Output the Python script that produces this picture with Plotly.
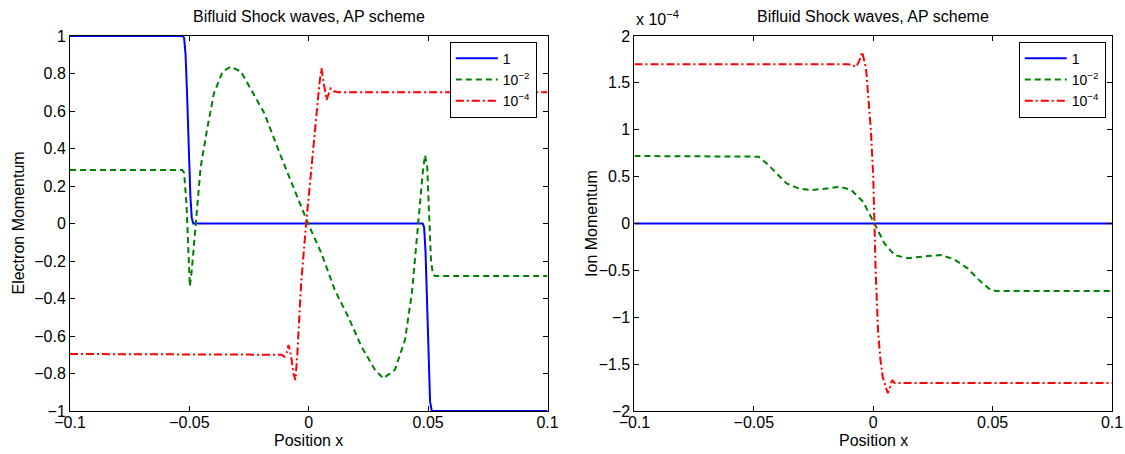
import plotly.graph_objects as go
from plotly.subplots import make_subplots

# ---------------- data ----------------
x_ticks = [-0.1, -0.05, 0, 0.05, 0.1]
x_tick_text = ["\u22120.1", "\u22120.05", "0", "0.05", "0.1"]
yl_ticks = [-1, -0.8, -0.6, -0.4, -0.2, 0, 0.2, 0.4, 0.6, 0.8, 1]
yl_tick_text = ["\u22121", "\u22120.8", "\u22120.6", "\u22120.4", "\u22120.2", "0", "0.2", "0.4", "0.6", "0.8", "1"]
yr_ticks = [-2, -1.5, -1, -0.5, 0, 0.5, 1, 1.5, 2]
yr_tick_text = ["\u22122", "\u22121.5", "\u22121", "\u22120.5", "0", "0.5", "1", "1.5", "2"]
legend_names = ["1", "10<sup>\u22122</sup>", "10<sup>\u22124</sup>"]

# Electron momentum, eps = 1
e1_x = [-0.1, -0.053, -0.0522, -0.0516, -0.051, -0.0503, -0.0496, -0.049, -0.0484,
        0.0477, 0.0483, 0.0489, 0.0495, 0.0502, 0.0508, 0.0515, 0.1]
e1_y = [1, 1, 0.99, 0.9, 0.7, 0.4, 0.15, 0.03, 0, 0, -0.02, -0.15, -0.45, -0.75, -0.95, -1, -1]

# Electron momentum, eps = 1e-2
e2_x = [-0.1, -0.053, -0.0522, -0.0512, -0.0504, -0.0498, -0.049, -0.0474, -0.0453, -0.0424,
        -0.0397, -0.0361, -0.0326, -0.0284, -0.0242, -0.0186, -0.0116, -0.006, -0.0003, 0.0053,
        0.0109, 0.0165, 0.0221, 0.0277, 0.0312, 0.0361, 0.0403, 0.0432, 0.046, 0.0478, 0.0487,
        0.0496, 0.0504, 0.0512, 0.052, 0.0528, 0.1]
e2_y = [0.285, 0.285, 0.27, 0.1, -0.15, -0.335, -0.25, 0, 0.30, 0.516,
        0.694, 0.81, 0.836, 0.81, 0.712, 0.588, 0.356, 0.179, 0, -0.159,
        -0.355, -0.497, -0.657, -0.78, -0.826, -0.78, -0.62, -0.37, 0.03, 0.28, 0.365,
        0.3, 0.05, -0.2, -0.27, -0.28, -0.28]

# Electron momentum, eps = 1e-4
e3_x = [-0.1, -0.013, -0.0115, -0.0102, -0.0093, -0.0085, -0.0075, -0.0064, -0.0056, -0.0048,
        -0.0032, -0.0011, 0.0011, 0.0032, 0.0045, 0.0053, 0.0062, 0.0074, 0.0083, 0.0092,
        0.0105, 0.0123, 0.1]
e3_y = [-0.696, -0.696, -0.70, -0.71, -0.69, -0.648, -0.70, -0.80, -0.835, -0.70,
        -0.319, 0, 0.303, 0.57, 0.75, 0.828, 0.76, 0.659, 0.69, 0.72,
        0.705, 0.70, 0.70]

# Ion momentum (values in units of 1e-4)
i1_x = [-0.1, 0.1]
i1_y = [0, 0]

i2_x = [-0.1, -0.051, -0.048, -0.0439, -0.0397, -0.0363, -0.0314, -0.0258, -0.0189, -0.014,
        -0.0092, -0.0043, 0.0005, 0.0047, 0.0089, 0.0145, 0.0228, 0.0283, 0.0339, 0.0395,
        0.045, 0.0492, 0.0515, 0.1]
i2_y = [0.72, 0.72, 0.713, 0.624, 0.517, 0.428, 0.375, 0.357, 0.375, 0.393,
        0.357, 0.233, 0, -0.212, -0.336, -0.371, -0.347, -0.336, -0.382, -0.478,
        -0.62, -0.709, -0.72, -0.72]

i3_x = [-0.1, -0.0105, -0.009, -0.0071, -0.0058, -0.0046, -0.003, -0.0022, -0.001, 0,
        0.0005, 0.001, 0.002, 0.003, 0.004, 0.0061, 0.0071, 0.0079, 0.009, 0.1]
i3_y = [1.70, 1.70, 1.69, 1.67, 1.74, 1.83, 1.65, 1.42, 1.0, 0.5,
        0, -0.5, -1.14, -1.45, -1.64, -1.81, -1.74, -1.67, -1.70, -1.70]

# ---------------- figure ----------------
FONT = "Liberation Sans, Arial, Helvetica, sans-serif"
FS = 16
BLUE, GREEN, RED = "#0000FF", "#008000", "#FF0000"
styles = [
    dict(color=BLUE, width=2, dash="solid"),
    dict(color=GREEN, width=2, dash="6px,4px"),
    dict(color=RED, width=2, dash="8px,3px,2px,3px"),
]

fig = make_subplots(rows=1, cols=2, horizontal_spacing=0.0834)

left = [(e1_x, e1_y), (e2_x, e2_y), (e3_x, e3_y)]
right = [(i1_x, i1_y), (i2_x, i2_y), (i3_x, i3_y)]
for k, (xs, ys) in enumerate(left):
    fig.add_trace(go.Scatter(x=xs, y=ys, mode="lines", name=legend_names[k], line=styles[k],
                             legend="legend"), row=1, col=1)
for k, (xs, ys) in enumerate(right):
    fig.add_trace(go.Scatter(x=xs, y=ys, mode="lines", name=legend_names[k], line=styles[k],
                             legend="legend2"), row=1, col=2)

axis_common = dict(showline=True, linecolor="black", linewidth=1, mirror="ticks",
                   ticks="inside", ticklen=5, tickcolor="black", showgrid=False,
                   zeroline=False, automargin=False,
                   tickfont=dict(family=FONT, size=FS, color="black"))

fig.update_xaxes(range=[-0.1, 0.1], tickvals=x_ticks, ticktext=x_tick_text,
                 ticklabelstandoff=-3, **axis_common)
fig.update_yaxes(range=[-1, 1], tickvals=yl_ticks, ticktext=yl_tick_text,
                 row=1, col=1, **axis_common)
fig.update_yaxes(range=[-2, 2], tickvals=yr_ticks, ticktext=yr_tick_text,
                 row=1, col=2, **axis_common)

legend_common = dict(bordercolor="black", borderwidth=1, bgcolor="white",
                     font=dict(family=FONT, size=14, color="black"),
                     xanchor="right", yanchor="top", tracegroupgap=0, itemwidth=42)

txt = dict(family=FONT, size=FS, color="black")
annotations = []
for dom in ["x domain", "x2 domain"]:
    annotations.append(dict(text="Bifluid Shock waves, AP scheme", xref=dom, yref="paper",
                            x=0.5, y=1, yshift=20, yanchor="middle", showarrow=False, font=txt))
    annotations.append(dict(text="Position x", xref=dom, yref="paper", x=0.5, y=0,
                            yshift=-29, yanchor="middle", showarrow=False, font=txt))
annotations.append(dict(text="Electron Momentum", xref="x domain", yref="paper", x=0, y=0.5,
                        xshift=-52, xanchor="center", yanchor="middle", textangle=-90,
                        showarrow=False, font=txt))
annotations.append(dict(text="Ion Momentum", xref="x2 domain", yref="paper", x=0, y=0.5,
                        xshift=-43, xanchor="center", yanchor="middle", textangle=-90,
                        showarrow=False, font=txt))
annotations.append(dict(text="x 10<sup>\u22124</sup>", xref="x2 domain", yref="paper", x=0, y=1,
                        xanchor="left", yanchor="bottom", yshift=6, xshift=0, showarrow=False,
                        font=txt))

fig.update_layout(
    width=1125, height=454,
    margin=dict(l=70, r=13, t=36, b=43, autoexpand=False),
    paper_bgcolor="white", plot_bgcolor="white",
    font=txt,
    legend=dict(x=0.448, y=0.985, **legend_common),
    legend2=dict(x=0.994, y=0.985, **legend_common),
    annotations=annotations,
)

# remove the default page margin so the figure fills the window exactly
fig.write_html("out.html", config={"displayModeBar": False},
               post_script="document.body.style.margin='0';document.body.style.overflow='hidden';")
